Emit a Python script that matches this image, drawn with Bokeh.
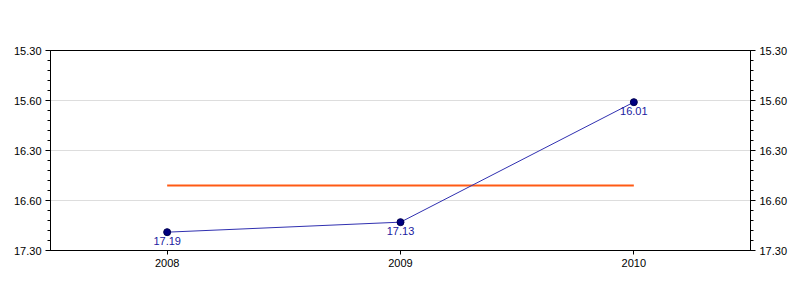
from bokeh.plotting import figure
from bokeh.models import Range1d, FixedTicker, LinearAxis, ColumnDataSource
from bokeh.embed import file_html
from bokeh.resources import INLINE
from bokeh.core.properties import value

years = [2008, 2009, 2010]
times = ["17.19", "17.13", "16.01"]  # minutes.seconds
tick_values = [15.5, 16.0, 16.5, 17.0, 17.5]
tick_labels = ["15.30", "15.60", "16.30", "16.60", "17.30"]

def to_minutes(s):
    m, sec = s.split(".")
    return int(m) + int(sec) / 60.0

mins = [to_minutes(t) for t in times]
avg = sum(mins) / len(mins)

src = ColumnDataSource(dict(x=years, y=mins, label=times))

p = figure(width=800, height=300, output_backend="svg", toolbar_location=None,
           x_range=Range1d(2007.5, 2010.5), y_range=Range1d(17.5, 15.5),
           min_border_left=50, min_border_right=50, min_border_top=50, min_border_bottom=50,
           y_axis_location="left")
p.outline_line_color = "black"
p.outline_line_width = 1
p.background_fill_color = "white"
p.border_fill_color = "white"

font = "Liberation Sans"

# x axis
p.xaxis.ticker = FixedTicker(ticks=years)
p.xaxis.major_label_overrides = {y: str(y) for y in years}
p.xaxis.minor_tick_line_color = None
p.xaxis.major_tick_out = 4
p.xaxis.major_tick_in = 0
p.xaxis.major_label_text_font = font
p.xaxis.major_label_text_font_size = "11px"
p.xaxis.major_label_text_font_style = "normal"
p.xaxis.major_label_text_color = "black"
p.xaxis.axis_line_color = "black"
p.xaxis.major_label_standoff = 4
p.xgrid.grid_line_color = None

# y axes
minor = [15.5 + i * 0.1 for i in range(21)]
right = LinearAxis()
p.add_layout(right, "right")
for ax in p.yaxis:
    ax.ticker = FixedTicker(ticks=tick_values, minor_ticks=minor)
    ax.major_label_overrides = dict(zip(tick_values, tick_labels))
    ax.major_tick_out = 5
    ax.major_tick_in = 0
    ax.minor_tick_out = 3
    ax.minor_tick_in = 0
    ax.major_label_text_font = font
    ax.major_label_text_font_size = "11px"
    ax.major_label_text_color = "black"
    ax.axis_line_color = "black"
    ax.major_label_standoff = 4

p.ygrid.ticker = FixedTicker(ticks=tick_values[1:-1])
p.ygrid.grid_line_color = "#dddddd"

# average line
p.line(x=[years[0], years[-1]], y=[avg, avg], line_color="#ff5a14", line_width=2)

# series
p.line(x="x", y="y", source=src, line_color="#3030b0", line_width=1)
p.scatter(x="x", y="y", source=src, size=7, fill_color="#000080", line_color="#000050")
p.text(x="x", y="y", text="label", source=src, text_align="center", text_baseline="top",
       y_offset=5, text_font=value(font), text_font_size="11px", text_color="#2020a0")

open("out.html", "w").write(file_html(p, INLINE))
